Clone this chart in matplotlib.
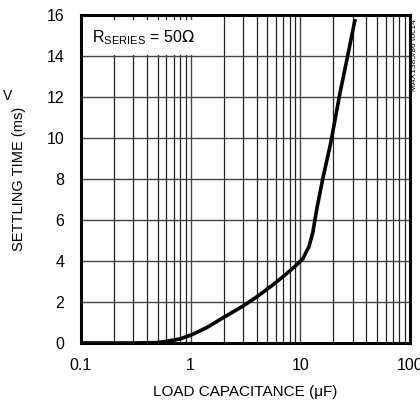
import matplotlib
matplotlib.use('Agg')
import matplotlib.pyplot as plt
from matplotlib.ticker import LogLocator, NullFormatter

plt.rcParams['font.family'] = ['Liberation Sans', 'DejaVu Sans']

# load capacitance (uF) vs settling time (ms)
cap_uf = [0.1, 0.3, 0.5, 0.6, 0.8, 1.0, 1.4, 2.0, 3.0, 4.0, 5.5, 7.0, 9.0, 10.5,
          12.0, 13.0, 14.2, 16.0, 19.0, 23.0, 27.0, 31.6]
settle_ms = [0.0, 0.0, 0.02, 0.08, 0.2, 0.38, 0.75, 1.25, 1.8, 2.25, 2.8, 3.25, 3.75, 4.1,
             4.7, 5.4, 6.6, 8.0, 9.8, 12.2, 14.0, 15.8]

x_ticks = [0.1, 1, 10, 100]
x_tick_labels = ['0.1', '1', '10', '100']
y_ticks = [0, 2, 4, 6, 8, 10, 12, 14, 16]

fig = plt.figure(figsize=(4.2, 4.07), dpi=100)
ax = fig.add_axes([81/420, 1 - 343/407, 329/420, 328/407])

ax.plot(cap_uf, settle_ms, color='black', lw=2.6, solid_capstyle='butt', zorder=3)

ax.set_xscale('log')
ax.set_xlim(0.1, 100)
ax.set_ylim(0, 16)
ax.set_xticks(x_ticks)
ax.set_xticklabels(x_tick_labels)
ax.xaxis.set_minor_locator(LogLocator(base=10, subs=range(2, 10)))
ax.xaxis.set_minor_formatter(NullFormatter())
ax.set_yticks(y_ticks)

ax.grid(which='major', axis='both', color='#444444', lw=1.0)
ax.grid(which='minor', axis='x', color='#222222', lw=0.9)
ax.tick_params(which='both', length=0, labelsize=11.5)
ax.tick_params(axis='y', pad=12)
ax.tick_params(axis='x', pad=11)

for s in ax.spines.values():
    s.set_linewidth(2.2)

ax.set_xlabel('LOAD CAPACITANCE (\u03bcF)', fontsize=11, va='center')
ax.xaxis.set_label_coords(0.5, -(392 - 343) / 328)
ax.set_ylabel('SETTLING TIME (ms)', fontsize=10.5, va='center')
ax.yaxis.set_label_coords(-(81 - 19) / 329, 0.5)

# label with white background
ax.text(0.125, 14.9, r'R$_{\mathregular{SERIES}}$ = 50$\Omega$', fontsize=11.5,
        va='center', ha='left', zorder=4,
        bbox=dict(facecolor='white', edgecolor='none', pad=6))

fig.text(414/420, 1 - 55/407, 'MAX1385/86 toc14', rotation=90, fontsize=6,
         ha='center', va='center')
fig.text(3/420, 1 - 96/407, 'V', fontsize=10, ha='left', va='center')

fig.savefig('out.png', dpi=100)
